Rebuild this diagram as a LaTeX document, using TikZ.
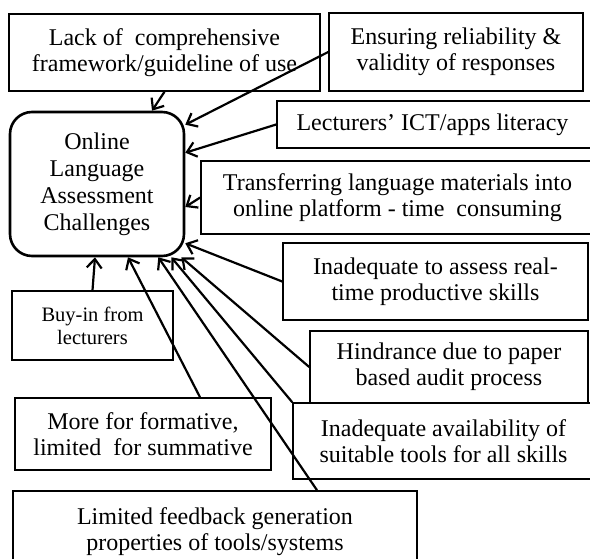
\documentclass[tikz,border=0pt]{standalone}
\usepackage{fontspec}
\setmainfont{Liberation Serif}
\usetikzlibrary{arrows.meta}
\tikzset{
	box/.style = {draw, line width=1.6pt, fill=white, align=center,
		inner sep=0pt, font=\fontsize{24}{26}\selectfont},
	hub/.style = {draw, line width=2.6pt, rounded corners=22pt, align=center,
		inner sep=0pt, font=\fontsize{24}{27}\selectfont},
	link/.style = {line width=2.2pt}
}

\begin{document}
\begin{tikzpicture}[x=1pt, y=-1pt, >={Straight Barb[length=9pt,width=15pt]}]
	\useasboundingbox (0,0) rectangle (590,559);
	% the centre
	\node [hub, minimum width=174pt, minimum height=144pt] (olac) at (97,184)
		{ Online\\ Language\\ Assessment\\ Challenges };
	% the boxes round it
	\node [box, minimum width=311pt, minimum height=77pt] (lack) at (164.5,52.5)
		{ Lack of\ \ comprehensive\\ framework/guideline of use };
	\node [box, minimum width=254pt, minimum height=78pt] (ensure) at (456,52)
		{ Ensuring reliability \&\\ validity of responses };
	\node [box, minimum width=317pt, minimum height=47pt] (ictlit) at (435.5,124.5)
		{ Lecturers’ ICT/apps literacy };
	\node [box, minimum width=393pt, minimum height=73pt] (transfer) at (397.5,197.5)
		{ Transferring language materials into\\ online platform - time\ \ consuming };
	\node [box, minimum width=305pt, minimum height=77pt] (realtime) at (435.5,281.5)
		{ Inadequate to assess real-\\ time productive skills };
	\node [box, minimum width=278pt, minimum height=72pt] (hindrance) at (449,367)
		{ Hindrance due to paper\\ based audit process };
	\node [box, minimum width=301pt, minimum height=76pt] (avail) at (443.5,441)
		{ Inadequate availability of\\ suitable tools for all skills };
	\node [box, minimum width=161pt, minimum height=69pt,
		font=\fontsize{20.5}{23}\selectfont] (buyin) at (92.5,325.5)
		{ Buy-in from\\ lecturers };
	\node [box, minimum width=256pt, minimum height=72pt] (formative) at (143,434)
		{ More for formative,\\ limited\ \ for summative };
	\node [box, minimum width=404pt, minimum height=81pt] (feedback) at (215,531.5)
		{ Limited feedback generation\\ properties of tools/systems };
	% the arrows into the centre
	\draw [ ->, link ] (lack.south) to ([xshift=55pt]olac.north);
	\draw [ ->, link ] (ensure.west) to ([yshift=-14pt]olac.north east);
	\draw [ ->, link ] (ictlit.west) to ([yshift=-42pt]olac.north east);
	\draw [ ->, link ] (transfer.west) to ([yshift=-23pt]olac.east);
	\draw [ ->, link ] (realtime.west) to ([yshift=14pt]olac.south east);
	\draw [ ->, link ] (hindrance.west) to ([xshift=-4pt]olac.south east);
	\draw [ ->, link ] (avail.north west) to ([xshift=-14pt]olac.south east);
	\draw [ ->, link ] ([xshift=102pt]feedback.north) to ([xshift=-27pt]olac.south east);
	\draw [ ->, link ] ([xshift=57pt]formative.north) to ([xshift=31pt]olac.south);
	\draw [ ->, link ] (buyin.north) to ([xshift=-2pt]olac.south);
\end{tikzpicture}
\end{document}
